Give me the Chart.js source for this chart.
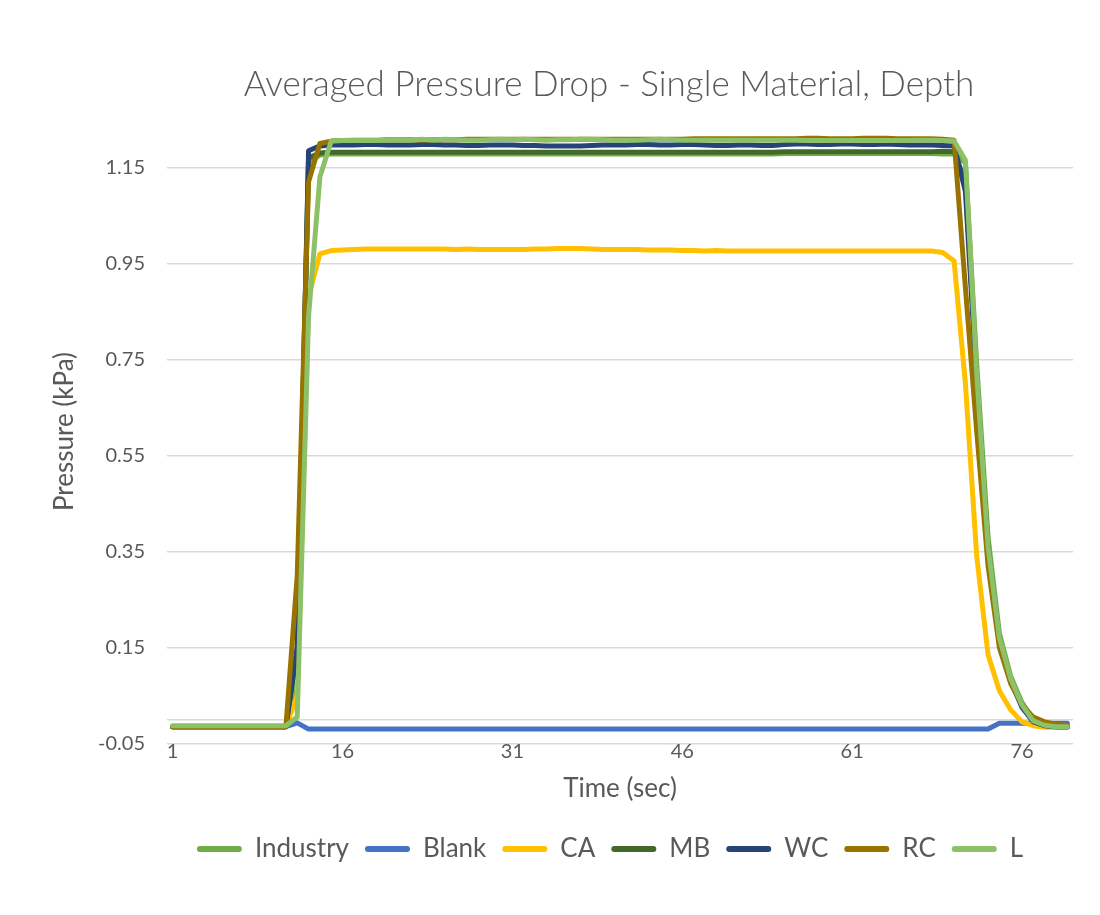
<!DOCTYPE html>
<html>
<head>
<meta charset="utf-8">
<title>Averaged Pressure Drop - Single Material, Depth</title>
<script src="https://cdn.jsdelivr.net/npm/chart.js@4.4.0/dist/chart.umd.min.js"></script>
<style>
  html, body { margin: 0; padding: 0; background: #fff; }
  #wrap { width: 1100px; height: 915px; position: relative; }
</style>
</head>
<body>
<div id="wrap"><canvas id="pressure-chart" width="1100" height="915"></canvas></div>
<script>
// Time axis (sec) and tick labels
const timeLabels = [
  '1','2','3','4','5','6','7','8','9','10',
  '11','12','13','14','15','16','17','18','19','20',
  '21','22','23','24','25','26','27','28','29','30',
  '31','32','33','34','35','36','37','38','39','40',
  '41','42','43','44','45','46','47','48','49','50',
  '51','52','53','54','55','56','57','58','59','60',
  '61','62','63','64','65','66','67','68','69','70',
  '71','72','73','74','75','76','77','78','79','80'
];
const xTickLabels = ['1', '16', '31', '46', '61', '76'];
const yTickValues = [-0.05, 0.15, 0.35, 0.55, 0.75, 0.95, 1.15];

const chartTitle = 'Averaged Pressure Drop - Single Material, Depth';
const xTitle = 'Time (sec)';
const yTitle = 'Pressure (kPa)';

// Averaged pressure drop per material (kPa)
const industry = [
  -0.015, -0.015, -0.015, -0.015, -0.015, -0.015, -0.015, -0.015, -0.015, -0.015,
  -0.015, 0.10, 1.16, 1.176, 1.178, 1.178, 1.178, 1.178, 1.178, 1.178,
  1.178, 1.178, 1.178, 1.178, 1.178, 1.178, 1.178, 1.178, 1.178, 1.178,
  1.178, 1.178, 1.178, 1.178, 1.178, 1.178, 1.178, 1.178, 1.178, 1.178,
  1.178, 1.178, 1.178, 1.178, 1.178, 1.178, 1.178, 1.178, 1.178, 1.178,
  1.178, 1.178, 1.178, 1.178, 1.179, 1.179, 1.179, 1.179, 1.179, 1.179,
  1.179, 1.179, 1.179, 1.179, 1.179, 1.179, 1.179, 1.179, 1.178, 1.178,
  1.16, 0.74, 0.38, 0.18, 0.09, 0.035, 0.0, -0.012, -0.016, -0.016
];
const blank = [
  -0.015, -0.015, -0.015, -0.015, -0.015, -0.015, -0.015, -0.015, -0.015, -0.015,
  -0.015, -0.007, -0.02, -0.02, -0.02, -0.02, -0.02, -0.02, -0.02, -0.02,
  -0.02, -0.02, -0.02, -0.02, -0.02, -0.02, -0.02, -0.02, -0.02, -0.02,
  -0.02, -0.02, -0.02, -0.02, -0.02, -0.02, -0.02, -0.02, -0.02, -0.02,
  -0.02, -0.02, -0.02, -0.02, -0.02, -0.02, -0.02, -0.02, -0.02, -0.02,
  -0.02, -0.02, -0.02, -0.02, -0.02, -0.02, -0.02, -0.02, -0.02, -0.02,
  -0.02, -0.02, -0.02, -0.02, -0.02, -0.02, -0.02, -0.02, -0.02, -0.02,
  -0.02, -0.02, -0.02, -0.008, -0.008, -0.008, -0.008, -0.008, -0.008, -0.008
];
const ca = [
  -0.016, -0.016, -0.016, -0.016, -0.016, -0.016, -0.016, -0.016, -0.016, -0.016,
  -0.016, 0.05, 0.88, 0.970, 0.977, 0.978, 0.979, 0.980, 0.980, 0.980,
  0.980, 0.980, 0.980, 0.980, 0.980, 0.979, 0.980, 0.979, 0.979, 0.979,
  0.979, 0.979, 0.980, 0.980, 0.981, 0.981, 0.981, 0.980, 0.979, 0.979,
  0.979, 0.979, 0.978, 0.978, 0.978, 0.977, 0.977, 0.976, 0.977, 0.976,
  0.976, 0.976, 0.976, 0.976, 0.976, 0.976, 0.976, 0.976, 0.976, 0.976,
  0.976, 0.976, 0.976, 0.976, 0.976, 0.976, 0.976, 0.976, 0.973, 0.955,
  0.70, 0.34, 0.135, 0.06, 0.02, -0.005, -0.013, -0.016, -0.016, -0.016
];
const mb = [
  -0.015, -0.015, -0.015, -0.015, -0.015, -0.015, -0.015, -0.015, -0.015, -0.015,
  -0.015, 0.15, 1.17, 1.18, 1.182, 1.182, 1.182, 1.182, 1.182, 1.182,
  1.182, 1.182, 1.182, 1.182, 1.182, 1.182, 1.182, 1.182, 1.182, 1.182,
  1.182, 1.182, 1.182, 1.182, 1.182, 1.182, 1.182, 1.182, 1.182, 1.182,
  1.182, 1.182, 1.182, 1.182, 1.182, 1.182, 1.182, 1.182, 1.182, 1.182,
  1.182, 1.182, 1.182, 1.182, 1.183, 1.183, 1.183, 1.183, 1.183, 1.183,
  1.183, 1.183, 1.183, 1.183, 1.183, 1.183, 1.183, 1.183, 1.184, 1.183,
  1.12, 0.71, 0.36, 0.165, 0.08, 0.03, -0.002, -0.012, -0.015, -0.015
];
const wc = [
  -0.015, -0.015, -0.015, -0.015, -0.015, -0.015, -0.015, -0.015, -0.015, -0.015,
  -0.015, 0.15, 1.185, 1.195, 1.197, 1.197, 1.197, 1.198, 1.198, 1.197,
  1.197, 1.197, 1.198, 1.198, 1.197, 1.197, 1.196, 1.196, 1.197, 1.197,
  1.197, 1.196, 1.196, 1.195, 1.195, 1.195, 1.195, 1.196, 1.197, 1.197,
  1.197, 1.198, 1.198, 1.197, 1.197, 1.198, 1.198, 1.197, 1.196, 1.196,
  1.197, 1.197, 1.196, 1.196, 1.198, 1.199, 1.199, 1.198, 1.198, 1.199,
  1.199, 1.198, 1.198, 1.199, 1.198, 1.197, 1.197, 1.197, 1.196, 1.195,
  1.10, 0.70, 0.35, 0.16, 0.08, 0.025, -0.005, -0.013, -0.015, -0.015
];
const rc = [
  -0.015, -0.015, -0.015, -0.015, -0.015, -0.015, -0.015, -0.015, -0.015, -0.015,
  -0.015, 0.30, 1.12, 1.20, 1.205, 1.206, 1.207, 1.207, 1.207, 1.208,
  1.208, 1.208, 1.207, 1.208, 1.208, 1.208, 1.209, 1.209, 1.209, 1.209,
  1.209, 1.209, 1.209, 1.209, 1.209, 1.209, 1.209, 1.209, 1.209, 1.209,
  1.209, 1.209, 1.209, 1.209, 1.209, 1.209, 1.210, 1.210, 1.210, 1.210,
  1.210, 1.210, 1.210, 1.210, 1.210, 1.210, 1.211, 1.211, 1.210, 1.210,
  1.210, 1.211, 1.211, 1.211, 1.210, 1.210, 1.210, 1.210, 1.209, 1.207,
  0.90, 0.60, 0.32, 0.15, 0.075, 0.03, 0.005, -0.005, -0.010, -0.012
];
const lMaterial = [
  -0.013, -0.013, -0.013, -0.013, -0.013, -0.013, -0.013, -0.013, -0.013, -0.013,
  -0.013, 0.005, 0.84, 1.13, 1.205, 1.206, 1.206, 1.206, 1.206, 1.207,
  1.208, 1.207, 1.209, 1.207, 1.209, 1.208, 1.207, 1.207, 1.208, 1.209,
  1.208, 1.209, 1.208, 1.207, 1.208, 1.208, 1.209, 1.209, 1.208, 1.207,
  1.207, 1.207, 1.208, 1.209, 1.208, 1.207, 1.207, 1.207, 1.207, 1.207,
  1.207, 1.207, 1.207, 1.207, 1.207, 1.207, 1.206, 1.206, 1.206, 1.206,
  1.206, 1.206, 1.206, 1.206, 1.206, 1.206, 1.207, 1.207, 1.206, 1.205,
  1.165, 0.72, 0.36, 0.17, 0.085, 0.03, -0.003, -0.012, -0.015, -0.015
];

const seriesNames = ['Industry', 'Blank', 'CA', 'MB', 'WC', 'RC', 'L'];
const seriesData = [industry, blank, ca, mb, wc, rc, lMaterial];
const seriesColors = ['#70AD47', '#4472C4', '#FFC000', '#43682B', '#264478', '#997300', '#8CC168'];

const textColor = '#595959';
const gridColor = '#D9D9D9';
const fontFamily = 'Lato, "Open Sans", sans-serif';

// First series sits at the bottom of the stack, last one on top
const datasets = seriesNames.map((name, i) => ({
  label: name,
  data: seriesData[i],
  borderColor: seriesColors[i],
  backgroundColor: seriesColors[i],
  borderWidth: 5,
  borderCapStyle: 'round',
  borderJoinStyle: 'round',
  pointRadius: 0,
  pointHoverRadius: 0,
  tension: 0,
  fill: false,
  order: seriesNames.length - i
}));

// Chart title and axis titles
const chartTitles = {
  id: 'chartTitles',
  afterDraw(chart) {
    const { ctx, chartArea } = chart;
    ctx.save();
    ctx.fillStyle = textColor;
    ctx.textAlign = 'center';
    ctx.textBaseline = 'middle';

    ctx.font = '300 35px ' + fontFamily;
    ctx.fillText(chartTitle, 609, 85);

    ctx.font = '26px ' + fontFamily;
    ctx.fillText(xTitle, (chartArea.left + chartArea.right) / 2, 789);

    ctx.translate(65, (chartArea.top + chartArea.bottom) / 2);
    ctx.rotate(-Math.PI / 2);
    ctx.fillText(yTitle, 0, 0);
    ctx.restore();
  }
};

// Centre the legend row under the whole chart block, y labels included
const legendShift = {
  id: 'legendShift',
  afterLayout(chart) {
    const legend = chart.legend;
    if (legend) {
      legend.left = 147;
      legend.right = chart.chartArea.right;
      legend.width = legend.right - legend.left;
    }
  }
};

const chart = new Chart(document.getElementById('pressure-chart'), {
  type: 'line',
  data: { labels: timeLabels, datasets: datasets },
  plugins: [chartTitles, legendShift],
  options: {
    responsive: false,
    devicePixelRatio: 1,
    animation: false,
    layout: {
      padding: { top: 119.5, left: 0, right: 27, bottom: 43 }
    },
    plugins: {
      title: { display: false },
      tooltip: { enabled: false },
      legend: {
        display: true,
        position: 'bottom',
        labels: {
          color: textColor,
          font: { family: fontFamily, size: 26 },
          boxWidth: 45,
          boxHeight: 6,
          padding: 16,
          useBorderRadius: true,
          borderRadius: 3,
          sort: (a, b) => a.datasetIndex - b.datasetIndex,
          generateLabels(chart) {
            const items = Chart.defaults.plugins.legend.labels.generateLabels(chart);
            items.forEach(item => {
              item.lineWidth = 0;
              item.fillStyle = seriesColors[item.datasetIndex];
            });
            return items;
          }
        }
      }
    },
    scales: {
      x: {
        type: 'category',
        offset: true,
        grid: { display: false, drawTicks: false },
        border: { display: false },
        afterFit(scale) { scale.height = 76.5; },
        ticks: {
          autoSkip: false,
          maxRotation: 0,
          padding: -4,
          color: textColor,
          font: { family: fontFamily, size: 20 },
          callback(value, index) {
            const label = timeLabels[index];
            return xTickLabels.includes(label) ? label : null;
          }
        }
      },
      y: {
        min: -0.05,
        max: 1.25,
        afterFit(scale) { scale.width = 167; },
        afterBuildTicks(scale) {
          // value 0 carries the horizontal axis line
          scale.ticks = yTickValues.concat([0]).sort((a, b) => a - b).map(v => ({ value: v }));
        },
        grid: { color: gridColor, lineWidth: 1.5, drawTicks: false },
        border: { display: false },
        ticks: {
          padding: 22,
          color: textColor,
          font: { family: fontFamily, size: 20 },
          callback(value) {
            return value === 0 ? '' : value.toFixed(2);
          }
        }
      }
    }
  }
});
</script>
</body>
</html>
